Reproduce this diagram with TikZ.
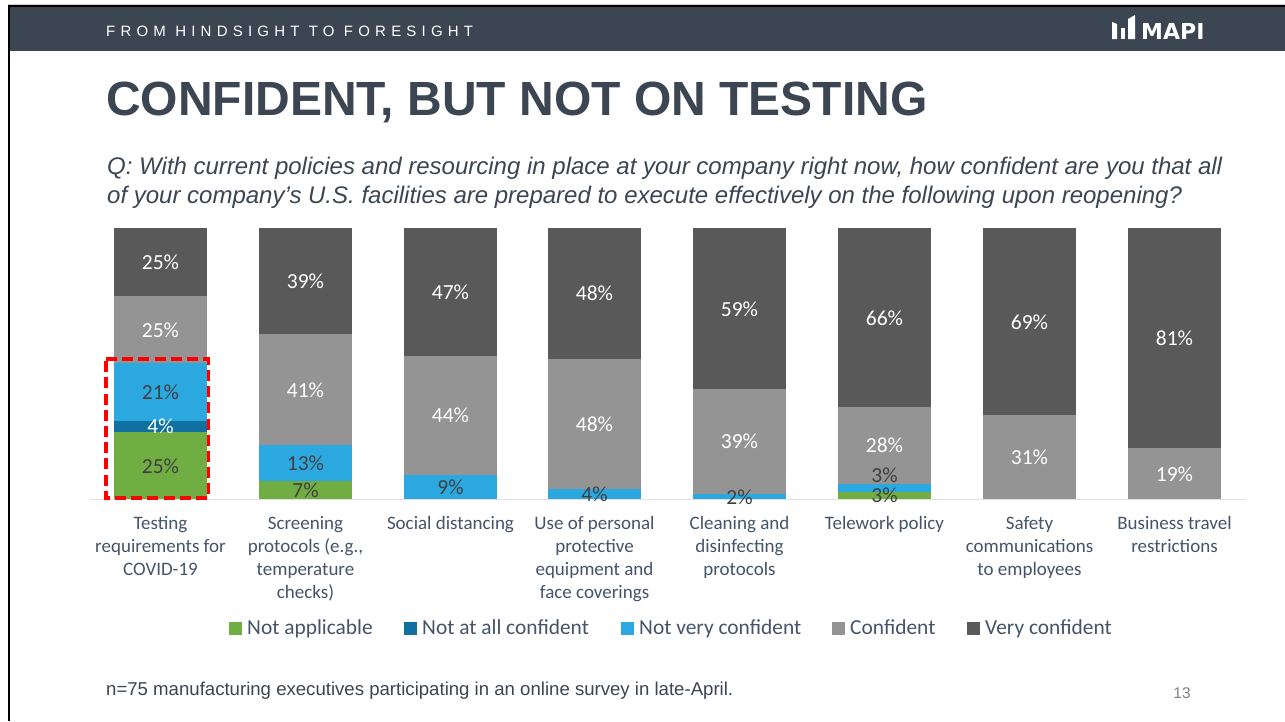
\documentclass[tikz,border=0pt]{standalone}
\usepackage{fontspec}
\setmainfont{Carlito}
\newfontfamily\arialfont{Liberation Sans}
\newfontfamily\spacedfont[LetterSpace=34.7]{Liberation Sans}
\newfontfamily\logofont{DejaVu Sans}
\definecolor{slate}{HTML}{3B4652}
\definecolor{catblue}{HTML}{44546A}
\definecolor{verycf}{HTML}{595959}
\definecolor{conf}{HTML}{949494}
\definecolor{notvery}{HTML}{2CA8E0}
\definecolor{notall}{HTML}{10709F}
\definecolor{notapp}{HTML}{70AD42}
\definecolor{darkpct}{HTML}{404040}
\tikzset{
	pct/.style={font=\fontsize{21.5}{23}\selectfont, inner sep=0pt, text=#1},
	pct/.default=white,
	catlabel/.style={font=\fontsize{19}{22.8}\selectfont, text=catblue, align=center, anchor=north, inner sep=0pt},
	legendtext/.style={font=\fontsize{21.4}{24}\selectfont, text=catblue, anchor=base west, inner sep=0pt}
}
\begin{document}
\begin{tikzpicture}[x=1pt, y=-1pt]
	\useasboundingbox (0, 0) rectangle (1285, 721);
	% frame and header band
	\fill [white] (0, 0) rectangle (1285, 721);
	\fill [black!20] (8, 4) rectangle (1285, 5);
	\fill [black] (8, 5) rectangle (1285, 721);
	\fill [white] (10, 7) rectangle (1285, 721);
	\fill [slate] (10, 7) rectangle (1285, 51);
	\node (head) at (106, 36.5) [anchor=base west, inner sep=0pt, text=white, font=\spacedfont\fontsize{15}{17}\selectfont] {FROM HINDSIGHT TO FORESIGHT};
	% logo
	\fill [white] (1112, 22)--(1117, 24)--(1117, 39)--(1112, 39)--cycle;
	\fill [white] (1121, 28)--(1125, 28)--(1125, 39)--(1121, 39)--cycle;
	\fill [white] (1128, 19)--(1135, 15)--(1135, 39)--(1128, 39)--cycle;
	\node (logo) at (1141, 39) [anchor=base west, inner sep=0pt, text=white, font=\logofont\bfseries\fontsize{22}{24}\selectfont] {MAPI};
	% title and question
	\node (title) at (106, 115) [anchor=base west, inner sep=0pt, text=slate, font=\arialfont\bfseries\fontsize{48}{52}\selectfont] {CONFIDENT, BUT NOT ON TESTING};
	\node (question) at (107, 157) [anchor=north west, inner sep=0pt, align=left, text=slate, font=\arialfont\itshape\fontsize{24}{29}\selectfont] {Q: With current policies and resourcing in place at your company right now, how confident are you that all\\of your company’s U.S. facilities are prepared to execute effectively on the following upon reopening?};
	% bar 1
	\fill [verycf] (114, 228) rectangle (207, 296);
	\fill [conf] (114, 296) rectangle (207, 363);
	\fill [notvery] (114, 363) rectangle (207, 421);
	\fill [notall] (114, 421) rectangle (207, 432);
	\fill [notapp] (114, 432) rectangle (207, 499);
	% bar 2
	\fill [verycf] (259, 228) rectangle (352, 334);
	\fill [conf] (259, 334) rectangle (352, 445);
	\fill [notvery] (259, 445) rectangle (352, 481);
	\fill [notapp] (259, 481) rectangle (352, 499);
	% bar 3
	\fill [verycf] (404, 228) rectangle (497, 356);
	\fill [conf] (404, 356) rectangle (497, 475);
	\fill [notvery] (404, 475) rectangle (497, 499);
	% bar 4
	\fill [verycf] (548, 228) rectangle (641, 359);
	\fill [conf] (548, 359) rectangle (641, 489);
	\fill [notvery] (548, 489) rectangle (641, 499);
	% bar 5
	\fill [verycf] (693, 228) rectangle (786, 389);
	\fill [conf] (693, 389) rectangle (786, 494);
	\fill [notvery] (693, 494) rectangle (786, 499);
	% bar 6
	\fill [verycf] (838, 228) rectangle (931, 407);
	\fill [conf] (838, 407) rectangle (931, 484);
	\fill [notvery] (838, 484) rectangle (931, 492);
	\fill [notapp] (838, 492) rectangle (931, 499);
	% bar 7
	\fill [verycf] (983, 228) rectangle (1076, 415);
	\fill [conf] (983, 415) rectangle (1076, 499);
	% bar 8
	\fill [verycf] (1128, 228) rectangle (1221, 448);
	\fill [conf] (1128, 448) rectangle (1221, 499);
	% axis and highlight
	\draw [black!12, line width=1.2pt] (90, 499.5)--(1246, 499.5);
	\draw [red, line width=3.8pt, dash pattern=on 11pt off 5.2pt] (106, 359)--(208.5, 359)--(208.5, 498)--(106, 498)--cycle;
	% percentages
	\node (a5) at (160.5, 262) [pct] {25\%};
	\node (a4) at (160.5, 330) [pct] {25\%};
	\node (a3) at (160.5, 392.5) [pct=darkpct] {21\%};
	\node (a2) at (160.5, 426) [pct] {4\%};
	\node (a1) at (160.5, 466) [pct=darkpct] {25\%};
	\node (b5) at (305.5, 281) [pct] {39\%};
	\node (b4) at (305.5, 390) [pct] {41\%};
	\node (b3) at (305.5, 463) [pct=darkpct] {13\%};
	\node (b1) at (305.5, 490.5) [pct=darkpct] {7\%};
	\node (c5) at (450.5, 292) [pct] {47\%};
	\node (c4) at (450.5, 415) [pct] {44\%};
	\node (c3) at (450.5, 487) [pct=darkpct] {9\%};
	\node (d5) at (594.5, 293) [pct] {48\%};
	\node (d4) at (594.5, 424) [pct] {48\%};
	\node (d3) at (594.5, 494.5) [pct=darkpct] {4\%};
	\node (e5) at (739.5, 309) [pct] {59\%};
	\node (e4) at (739.5, 441) [pct] {39\%};
	\node (e3) at (739.5, 497) [pct=darkpct] {2\%};
	\node (f5) at (884.5, 318) [pct] {66\%};
	\node (f4) at (884.5, 445) [pct] {28\%};
	\node (f3) at (884.5, 475.5) [pct=darkpct] {3\%};
	\node (f1) at (884.5, 495.5) [pct=darkpct] {3\%};
	\node (g5) at (1029.5, 322) [pct] {69\%};
	\node (g4) at (1029.5, 457) [pct] {31\%};
	\node (h5) at (1174.5, 338) [pct] {81\%};
	\node (h4) at (1174.5, 474) [pct] {19\%};
	% category labels
	\node (cata) at (160.5, 516.5) [catlabel] {Testing\\requirements for\\COVID-19};
	\node (catb) at (305.5, 516.5) [catlabel] {Screening\\protocols (e.g.,\\temperature\\checks)};
	\node (catc) at (450.5, 516.5) [catlabel] {Social distancing};
	\node (catd) at (594.5, 516.5) [catlabel] {Use of personal\\protective\\equipment and\\face coverings};
	\node (cate) at (739.5, 516.5) [catlabel] {Cleaning and\\disinfecting\\protocols};
	\node (catf) at (884.5, 516.5) [catlabel] {Telework policy};
	\node (catg) at (1029.5, 516.5) [catlabel] {Safety\\communications\\to employees};
	\node (cath) at (1174.5, 516.5) [catlabel] {Business travel\\restrictions};
	% legend
	\fill [notapp] (229, 621.5) rectangle (242, 634.5);
	\node (lega) at (247, 634) [legendtext] {Not applicable};
	\fill [notall] (404, 621.5) rectangle (417, 634.5);
	\node (legb) at (422, 634) [legendtext] {Not at all confident};
	\fill [notvery] (621, 621.5) rectangle (634, 634.5);
	\node (legc) at (639, 634) [legendtext] {Not very confident};
	\fill [conf] (832, 621.5) rectangle (845, 634.5);
	\node (legd) at (850, 634) [legendtext] {Confident};
	\fill [verycf] (967, 621.5) rectangle (980, 634.5);
	\node (lege) at (985, 634) [legendtext] {Very confident};
	% footer
	\node (note) at (106, 695) [anchor=base west, inner sep=0pt, text=slate, font=\arialfont\fontsize{18.6}{21}\selectfont] {n=75 manufacturing executives participating in an online survey in late-April.};
	\node (pagenum) at (1182, 693) [inner sep=0pt, text=black!50, font=\arialfont\fontsize{15.5}{17}\selectfont] {13};
\end{tikzpicture}
\end{document}
